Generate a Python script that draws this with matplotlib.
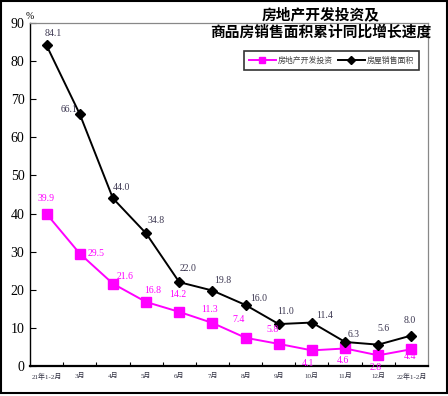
import matplotlib
matplotlib.use("Agg")
import matplotlib.pyplot as plt
from matplotlib.patches import Rectangle
from matplotlib.ticker import MultipleLocator

plt.rcParams['font.family'] = ['Liberation Serif', 'Noto Sans CJK SC']

# ---------- data ----------
months = ["21年1-2月", "3月", "4月", "5月", "6月", "7月", "8月", "9月",
          "10月", "11月", "12月", "22年1-2月"]
invest = [39.9, 29.5, 21.6, 16.8, 14.2, 11.3, 7.4, 5.8, 4.1, 4.6, 2.8, 4.4]
sales_area = [84.1, 66.1, 44.0, 34.8, 22.0, 19.8, 16.0, 11.0, 11.4, 6.3, 5.6, 8.0]
series_names = ["房地产开发投资", "房屋销售面积"]
title_lines = ["房地产开发投资及", "商品房销售面积累计同比增长速度"]

# label offsets in pixels (dx, dy up)
invest_off = [(-1, 15), (16, 0), (12, 7), (7, 11), (-2, 17), (-3, 13), (-7, 18),
              (-6, 14), (-4, -13), (-2, -12), (-3, -12), (-1, -7)]
sales_off = [(7, 12), (-11, 5), (9, 11), (10, 13), (9, 14), (10, 10), (13, 7),
             (7, 13), (13, 7), (9, 7), (5, 16), (-2, 15)]

MAGENTA = "#ff00ff"
LABEL_DARK = "#3b3650"

fig = plt.figure(figsize=(4.48, 3.96), dpi=100)
ax = fig.add_axes([30 / 448, 1 - 366 / 396, 398 / 448, 343 / 396])

x = list(range(len(months)))
ax.plot(x, invest, color=MAGENTA, lw=1.4, marker="s", ms=6.8, mfc=MAGENTA,
        mec=MAGENTA, label=series_names[0], zorder=3)
ax.plot(x, sales_area, color="black", lw=1.4, marker="D", ms=5.2, mfc="black",
        mec="black", label=series_names[1], zorder=3)

for xi, v, (dx, dy) in zip(x, invest, invest_off):
    ax.annotate(f"{v:.1f}", (xi, v), xytext=(dx, dy), textcoords="offset pixels",
                ha="center", va="center", fontsize=7, color=MAGENTA)
for xi, v, (dx, dy) in zip(x, sales_area, sales_off):
    ax.annotate(f"{v:.1f}", (xi, v), xytext=(dx, dy), textcoords="offset pixels",
                ha="center", va="center", fontsize=7, color=LABEL_DARK)

ax.set_xlim(-0.5, len(months) - 0.5)
ax.set_ylim(0, 90)
ax.yaxis.set_major_locator(MultipleLocator(10))
ax.set_xticks(x)
ax.set_xticklabels(months, fontsize=5, color="#333344")
ax.set_xticks([i + 0.5 for i in x[:-1]], minor=True)
ax.tick_params(axis="x", which="major", length=0, pad=5)
ax.tick_params(axis="x", which="minor", direction="in", length=3, width=0.8)
ax.tick_params(axis="y", direction="in", length=4, width=0.8, labelsize=10, pad=4)

ax.spines["bottom"].set_linewidth(1.6)
ax.spines["left"].set_linewidth(1.0)
for s in ("top", "right"):
    ax.spines[s].set_color("#888888")
    ax.spines[s].set_linewidth(0.9)

ax.text(-0.5, 91.6, "%", fontsize=7, ha="center", va="center",
        transform=ax.transData, clip_on=False)

leg = ax.legend(loc="upper left", bbox_to_anchor=(214 / 398, 1 - 28 / 343),
                ncol=2, frameon=True, fancybox=False,
                handlelength=3.4, handletextpad=0.3, columnspacing=0.6,
                borderpad=0.6, borderaxespad=0, markerscale=0.7,
                prop={"family": ["Noto Sans CJK SC"], "size": 5.7})
leg.get_frame().set_edgecolor("black")
leg.get_frame().set_linewidth(1.2)
for t in leg.get_texts():
    t.set_color("#444444")

fig.text(321 / 448, 1 - 14 / 396, title_lines[0], ha="center", va="center",
         fontsize=10.6, fontweight="bold", family=["Noto Sans CJK SC"])
fig.text(321 / 448, 1 - 32 / 396, title_lines[1], ha="center", va="center",
         fontsize=10.6, fontweight="bold", family=["Noto Sans CJK SC"])

fig.patches.append(Rectangle((1 / 448, 3 / 396), 446 / 448, 392 / 396,
                             transform=fig.transFigure, fill=False,
                             edgecolor="black", linewidth=1.5))

fig.savefig("out.png", dpi=100)
